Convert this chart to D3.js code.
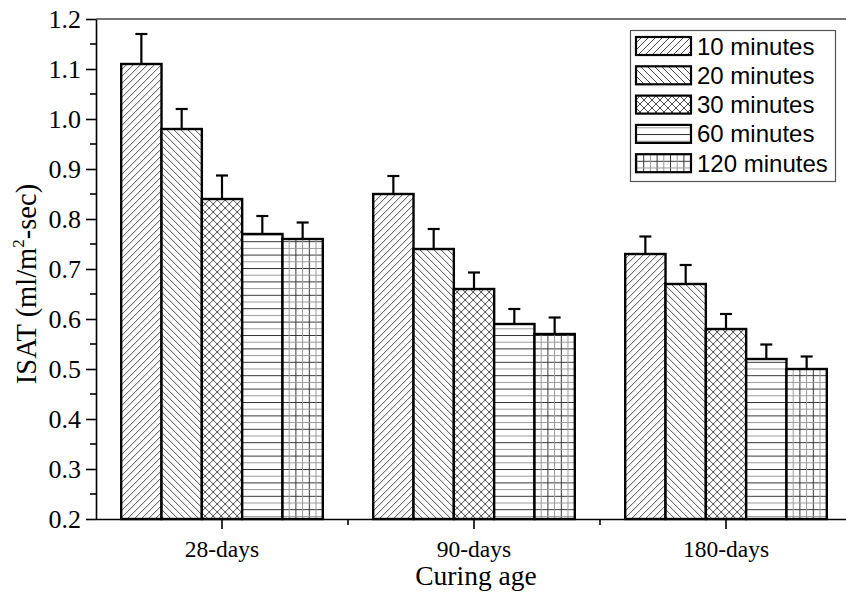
<!DOCTYPE html>
<html>
<head>
<meta charset="utf-8">
<script src="https://cdn.jsdelivr.net/npm/d3@7"></script>
<style>
  html, body { margin: 0; padding: 0; background: #fff; }
  svg { display: block; }
</style>
</head>
<body>
<svg id="chart" width="846" height="597"></svg>
<script>
// Curing ages (x categories) and exposure times (series)
const categories = ["28-days", "90-days", "180-days"];
const seriesNames = ["10 minutes", "20 minutes", "30 minutes", "60 minutes", "120 minutes"];

// ISAT means per series, one value per curing age
const isat10  = [1.11, 0.85, 0.73];
const isat20  = [0.98, 0.74, 0.67];
const isat30  = [0.84, 0.66, 0.58];
const isat60  = [0.77, 0.59, 0.52];
const isat120 = [0.76, 0.57, 0.50];

// Upper error (standard deviation) per series
const err10  = [0.060, 0.036, 0.035];
const err20  = [0.040, 0.040, 0.038];
const err30  = [0.047, 0.033, 0.030];
const err60  = [0.036, 0.030, 0.029];
const err120 = [0.033, 0.033, 0.025];

const yTicks = [0.2, 0.3, 0.4, 0.5, 0.6, 0.7, 0.8, 0.9, 1.0, 1.1, 1.2];

const values = [isat10, isat20, isat30, isat60, isat120];
const errors = [err10, err20, err30, err60, err120];
const patternIds = ["p-fwd", "p-back", "p-cross", "p-horiz", "p-grid"];

const svg = d3.select("#chart");
const plotLeft = 96, plotTop = 19, plotBottom = 519, plotRight = 852;

const x0 = d3.scaleBand().domain(categories).range([plotLeft, plotRight])
  .paddingInner(0.2).paddingOuter(0.1);
const x1 = d3.scaleBand().domain(seriesNames).range([0, x0.bandwidth()]);
const y = d3.scaleLinear().domain([0.2, 1.2]).range([plotBottom, plotTop]);

// Hatch patterns
const defs = svg.append("defs");
const hatch = "#3a3a3a";
function pat(id, w, h) {
  return defs.append("pattern").attr("id", id).attr("patternUnits", "userSpaceOnUse")
    .attr("width", w).attr("height", h);
}
{
  const s = 7;
  const p = pat("p-fwd", s, s);
  p.append("rect").attr("width", s).attr("height", s).attr("fill", "#fff");
  p.append("path").attr("d", `M0,${s} L${s},0 M${-s/2},${s/2} L${s/2},${-s/2} M${s/2},${s*1.5} L${s*1.5},${s/2}`)
    .attr("stroke", hatch).attr("stroke-width", 0.9);
}
{
  const s = 7;
  const p = pat("p-back", s, s);
  p.append("rect").attr("width", s).attr("height", s).attr("fill", "#fff");
  p.append("path").attr("d", `M0,0 L${s},${s} M${-s/2},${s/2} L${s/2},${s*1.5} M${s/2},${-s/2} L${s*1.5},${s/2}`)
    .attr("stroke", hatch).attr("stroke-width", 0.9);
}
{
  const s = 8;
  const p = pat("p-cross", s, s);
  p.append("rect").attr("width", s).attr("height", s).attr("fill", "#fff");
  p.append("path").attr("d", `M0,0 L${s},${s} M0,${s} L${s},0 M${-s/2},${s/2} L${s/2},${s*1.5} M${s/2},${-s/2} L${s*1.5},${s/2} M${-s/2},${s/2} L${s/2},${-s/2} M${s/2},${s*1.5} L${s*1.5},${s/2}`)
    .attr("stroke", hatch).attr("stroke-width", 0.9);
}
{
  const s = 6.7;
  const p = pat("p-horiz", 10, s * 2);
  p.append("rect").attr("width", 10).attr("height", s * 2).attr("fill", "#fff");
  p.append("line").attr("x1", 0).attr("x2", 10).attr("y1", 0.5).attr("y2", 0.5)
    .attr("stroke", "#333").attr("stroke-width", 1);
  p.append("line").attr("x1", 0).attr("x2", 10).attr("y1", s + 0.5).attr("y2", s + 0.5)
    .attr("stroke", "#999").attr("stroke-width", 1);
}
{
  const s = 6.7;
  const p = pat("p-grid", s * 2, s * 2);
  p.append("rect").attr("width", s * 2).attr("height", s * 2).attr("fill", "#fff");
  p.append("path").attr("d", `M0,0.5 H${s*2} M0.5,0 V${s*2}`).attr("stroke", "#333").attr("stroke-width", 1);
  p.append("path").attr("d", `M0,${s+0.5} H${s*2} M${s+0.5},0 V${s*2}`).attr("stroke", "#999").attr("stroke-width", 1);
}

// Bars with upward error bars
const groups = svg.append("g").selectAll("g").data(categories).join("g")
  .attr("transform", d => `translate(${x0(d)},0)`);

groups.each(function (cat, ci) {
  const g = d3.select(this);
  seriesNames.forEach((name, si) => {
    const v = values[si][ci], e = errors[si][ci];
    const bx = x1(name), bw = x1.bandwidth();
    const cx = bx + bw / 2;
    g.append("line").attr("x1", cx).attr("x2", cx).attr("y1", y(v)).attr("y2", y(v + e))
      .attr("stroke", "#000").attr("stroke-width", 2.2);
    g.append("line").attr("x1", cx - 6).attr("x2", cx + 6).attr("y1", y(v + e)).attr("y2", y(v + e))
      .attr("stroke", "#000").attr("stroke-width", 2.2);
    g.append("rect").attr("x", bx).attr("y", y(v)).attr("width", bw).attr("height", y(0.2) - y(v))
      .attr("fill", `url(#${patternIds[si]})`).attr("stroke", "#000").attr("stroke-width", 2.4);
  });
});

// Top frame line
svg.append("line").attr("x1", plotLeft).attr("x2", 846).attr("y1", plotTop).attr("y2", plotTop)
  .attr("stroke", "#444").attr("stroke-width", 1.5);

// Y axis with minor ticks
const yAxis = d3.axisLeft(y).tickValues(yTicks).tickFormat(d3.format(".1f"))
  .tickSize(10).tickPadding(5).tickSizeOuter(0);
const yg = svg.append("g").attr("transform", `translate(${plotLeft},0)`).call(yAxis);
yg.select(".domain").attr("stroke-width", 1.6);
yg.selectAll(".tick line").attr("stroke-width", 1.6);
yg.selectAll(".tick text").attr("font-family", "'Liberation Serif', 'Times New Roman', serif")
  .style("font-size", "26px").attr("fill", "#000");
svg.append("g").selectAll("line").data(yTicks.slice(0, -1).map(t => t + 0.05)).join("line")
  .attr("x1", plotLeft - 6).attr("x2", plotLeft).attr("y1", d => y(d)).attr("y2", d => y(d))
  .attr("stroke", "#000").attr("stroke-width", 1.6);

// X axis
const xAxis = d3.axisBottom(x0).tickSize(10).tickPadding(11).tickSizeOuter(0);
const xg = svg.append("g").attr("transform", `translate(0,${plotBottom})`).call(xAxis);
xg.select(".domain").attr("d", `M${plotLeft},0.5H846`).attr("stroke-width", 1.6);
xg.selectAll(".tick line").attr("stroke-width", 1.6);
xg.selectAll(".tick text").attr("font-family", "'Liberation Serif', 'Times New Roman', serif")
  .style("font-size", "23.5px").attr("fill", "#000");
// minor ticks at category boundaries
svg.append("g").selectAll("line").data(categories.slice(1)).join("line")
  .attr("x1", d => x0(d) - x0.step() * 0.1).attr("x2", d => x0(d) - x0.step() * 0.1)
  .attr("y1", plotBottom).attr("y2", plotBottom + 6)
  .attr("stroke", "#000").attr("stroke-width", 1.6);

// Axis titles
svg.append("text").attr("x", 476).attr("y", 585).attr("text-anchor", "middle")
  .attr("font-family", "'Liberation Serif', 'Times New Roman', serif").attr("font-size", 27.5)
  .text("Curing age");

const yt = svg.append("text").attr("transform", `translate(36,284) rotate(-90)`)
  .attr("text-anchor", "middle")
  .attr("font-family", "'Liberation Serif', 'Times New Roman', serif").attr("font-size", 28.5);
yt.append("tspan").text("ISAT (ml/m");
yt.append("tspan").attr("font-size", 17).attr("dy", -12).text("2");
yt.append("tspan").attr("dy", 12).text("-sec)");

// Legend
const lg = svg.append("g");
lg.append("rect").attr("x", 630.5).attr("y", 30.5).attr("width", 205).attr("height", 151)
  .attr("fill", "#fff").attr("stroke", "#555").attr("stroke-width", 1.2);
seriesNames.forEach((name, i) => {
  const ry = 37 + i * 29.3;
  lg.append("rect").attr("x", 636).attr("y", ry).attr("width", 55).attr("height", 18)
    .attr("fill", `url(#${patternIds[i]})`).attr("stroke", "#000").attr("stroke-width", 2.2);
  lg.append("text").attr("x", 697).attr("y", ry + 17.5)
    .attr("font-family", "'Liberation Sans', Arial, sans-serif").attr("font-size", 24)
    .text(name);
});
</script>
</body>
</html>
